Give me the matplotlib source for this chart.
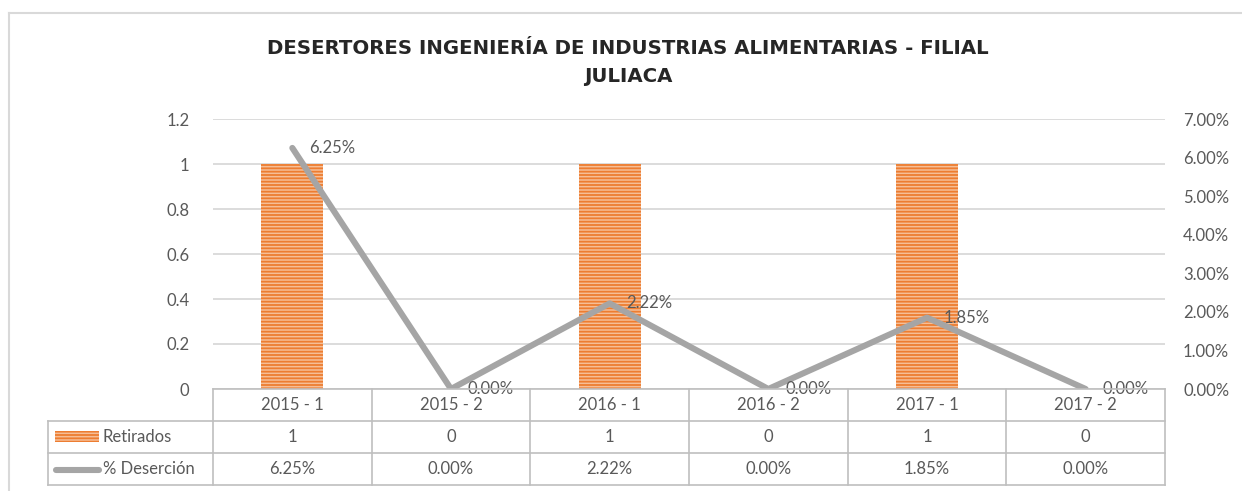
import matplotlib
matplotlib.use("Agg")
import matplotlib.pyplot as plt
from matplotlib.lines import Line2D
from matplotlib.patches import Rectangle
from matplotlib.ticker import FuncFormatter

categories = ["2015 - 1", "2015 - 2", "2016 - 1", "2016 - 2", "2017 - 1", "2017 - 2"]
retirados = [1, 0, 1, 0, 1, 0]
desercion = [0.0625, 0.0, 0.0222, 0.0, 0.0185, 0.0]
series_names = ["Retirados", "% Deserción"]
title = "DESERTORES INGENIERÍA DE INDUSTRIAS ALIMENTARIAS - FILIAL\nJULIACA"

plt.rcParams['font.family'] = ['Lato', 'DejaVu Sans']
plt.rcParams['hatch.linewidth'] = 1.3

W, H = 1242, 491
TXT = '#595959'
GRID = '#D9D9D9'
TAB = '#BFBFBF'
ORANGE = '#ED7D31'
ORANGE_L = '#F6BE96'
GRAY = '#A5A5A5'
FS = 12

fig = plt.figure(figsize=(W / 100, H / 100), dpi=100)

def fx(px):
    return px / W

def fy(py):
    return 1 - py / H

L, R, T, B = 213, 1165, 119, 389
ax = fig.add_axes([fx(L), fy(B), (R - L) / W, (B - T) / H])
x = list(range(len(categories)))

ax.bar(x, retirados, width=0.39, color=ORANGE_L, edgecolor=ORANGE, linewidth=0,
       hatch='-----', zorder=2)
ax.set_xlim(-0.5, len(categories) - 0.5)
ax.set_ylim(0, 1.2)
ax.set_yticks([0, 0.2, 0.4, 0.6, 0.8, 1.0, 1.2])
ax.set_yticklabels(["0", "0.2", "0.4", "0.6", "0.8", "1", "1.2"])
ax.yaxis.grid(True, color=GRID, linewidth=1.3, zorder=0)
ax.set_axisbelow(True)
ax.set_xticks([])
ax.tick_params(axis='y', length=0, pad=17, labelsize=FS, labelcolor=TXT)
for s in ax.spines.values():
    s.set_visible(False)

ax2 = ax.twinx()
ax2.set_ylim(0, 0.07)
ax2.set_yticks([i / 100 for i in range(8)])
ax2.yaxis.set_major_formatter(FuncFormatter(lambda v, p: f"{v*100:.2f}%"))
ax2.tick_params(axis='y', length=0, pad=13, labelsize=FS, labelcolor=TXT)
for s in ax2.spines.values():
    s.set_visible(False)
ax2.plot(x, desercion, color=GRAY, linewidth=4.4, solid_capstyle='round',
         solid_joinstyle='round', zorder=3)
for xi, v in zip(x, desercion):
    ax2.annotate(f"{v*100:.2f}%", (xi, v), xytext=(12, 0), textcoords='offset points',
                 ha='left', va='center', fontsize=FS, color=TXT, zorder=4)

# Title
fig.text(fx(628), fy(62), title, ha='center', va='center', fontsize=14.2,
         fontweight='bold', color='#262626', linespacing=1.6,
         family=['DejaVu Sans'])

# Outer chart border (left and top visible)
fig.add_artist(Line2D([fx(9), fx(9)], [fy(13), fy(491)], color=GRID, lw=1.5))
fig.add_artist(Line2D([fx(9), fx(1242)], [fy(13), fy(13)], color=GRID, lw=1.5))

# Data table
r0, r1, r2, r3 = 389, 421, 453, 485
LEG = 48
colw = (R - L) / len(categories)
def hline(x0, x1, y):
    fig.add_artist(Line2D([fx(x0), fx(x1)], [fy(y), fy(y)], color=TAB, lw=1.2))
def vline(xp, y0, y1):
    fig.add_artist(Line2D([fx(xp), fx(xp)], [fy(y0), fy(y1)], color=TAB, lw=1.2))

hline(L, R, r0)
hline(LEG, R, r1)
hline(LEG, R, r2)
hline(LEG, R, r3)
vline(LEG, r1, r3)
for i in range(len(categories) + 1):
    vline(L + i * colw, r0, r3)

for i, c in enumerate(categories):
    cx = L + (i + 0.5) * colw
    fig.text(fx(cx), fy((r0 + r1) / 2), c, ha='center', va='center', fontsize=FS, color=TXT)
    fig.text(fx(cx), fy((r1 + r2) / 2), f"{retirados[i]}", ha='center', va='center',
             fontsize=FS, color=TXT)
    fig.text(fx(cx), fy((r2 + r3) / 2), f"{desercion[i]*100:.2f}%", ha='center',
             va='center', fontsize=FS, color=TXT)

# legend keys in table
fig.add_artist(Rectangle((fx(55), fy(442)), (99 - 55) / W, 11 / H, facecolor=ORANGE_L,
                         edgecolor=ORANGE, linewidth=0, hatch='-----',
                         transform=fig.transFigure))
fig.add_artist(Line2D([fx(56), fx(99)], [fy(470), fy(470)], color=GRAY, lw=4.4,
                      solid_capstyle='round'))
fig.text(fx(103), fy((r1 + r2) / 2), series_names[0], ha='left', va='center',
         fontsize=FS, color=TXT)
fig.text(fx(103), fy((r2 + r3) / 2), series_names[1], ha='left', va='center',
         fontsize=FS, color=TXT)

fig.savefig("out.png", dpi=100)
